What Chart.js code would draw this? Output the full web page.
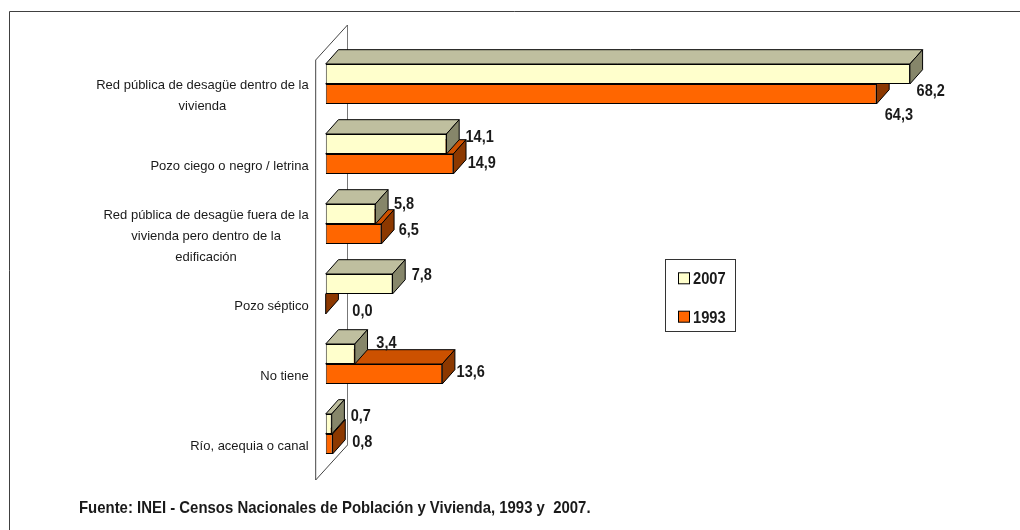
<!DOCTYPE html>
<html>
<head>
<meta charset="utf-8">
<script src="https://cdn.jsdelivr.net/npm/chart.js@4"></script>
<style>
html, body { margin: 0; padding: 0; background: #fff; }
#wrap { position: relative; width: 1020px; height: 530px; }
</style>
</head>
<body>
<div id="wrap"><canvas id="chart" width="1020" height="530"></canvas></div>
<script>
// data
const categories = [
    ['Red pública de desagüe dentro de la', 'vivienda'],
    ['Pozo ciego o negro / letrina'],
    ['Red pública de desagüe fuera de la', 'vivienda pero dentro de la', 'edificación'],
    ['Pozo séptico'],
    ['No tiene'],
    ['Río, acequia o canal']
];
const values2007 = [68.2, 14.1, 5.8, 7.8, 3.4, 0.7];
const values1993 = [64.3, 14.9, 6.5, 0.0, 13.6, 0.8];
const seriesNames = ['2007', '1993'];
const sourceNote = 'Fuente: INEI - Censos Nacionales de Población y Vivienda, 1993 y  2007.';

// label nudges (text left edge from bar end, text centre from bar centre)
const labelNudge2007 = [[6.7, 16], [19, -8], [18.6, -11], [19.2, -10], [21.5, -12], [19, -9]];
const labelNudge1993 = [[8.3, 20.5], [14.3, -2], [17.3, -4.5], [26.6, 6.5], [14.4, -3], [19.7, -3]];

// 3d look
const faceColors = [
    { front: '#FFFFCC', top: '#BFBF9F', side: '#86866A' },
    { front: '#FF6600', top: '#CC5100', side: '#8C3800' }
];
const BX = 12.7, BY = 14.3;   // bar depth
const WX = 31.8, WY = 35;     // wall depth
const FX = 10, FY = 11;       // bar front plane offset from wall front

function poly(c, pts, fill) {
    c.beginPath();
    c.moveTo(pts[0][0], pts[0][1]);
    for (let i = 1; i < pts.length; i++) c.lineTo(pts[i][0], pts[i][1]);
    c.closePath();
    c.fillStyle = fill;
    c.fill();
    c.lineWidth = 1;
    c.strokeStyle = '#000';
    c.stroke();
}

function boldText(c, text, x, baseline, size, sx) {
    c.save();
    c.font = 'bold ' + size + 'px "Liberation Sans", Arial, sans-serif';
    c.textAlign = 'left';
    c.textBaseline = 'alphabetic';
    c.fillStyle = '#1a1a1a';
    c.translate(x, baseline);
    c.scale(sx, 1);
    c.fillText(text, 0, 0);
    c.restore();
}

const threeD = {
    id: 'threeD',
    beforeDatasetsDraw(chart) {
        const c = chart.ctx;
        const xs = chart.scales.x, ys = chart.scales.y;
        const x0 = xs.getPixelForValue(0);
        const fx = x0 - FX;
        const fTop = ys.top + FY, fBot = ys.bottom + FY;
        c.save();
        // back wall edge
        c.strokeStyle = '#777';
        c.lineWidth = 1;
        c.beginPath();
        c.moveTo(fx + WX, fTop - WY);
        c.lineTo(fx + WX, fBot - WY);
        c.stroke();
        // front wall edge and depth lines
        c.strokeStyle = '#444';
        c.beginPath();
        c.moveTo(fx + WX, fTop - WY);
        c.lineTo(fx, fTop);
        c.lineTo(fx, fBot);
        c.lineTo(fx + WX, fBot - WY);
        c.stroke();
        // top and side faces, far series first
        [1, 0].forEach(di => {
            const meta = chart.getDatasetMeta(di);
            meta.data.forEach(bar => {
                const p = bar.getProps(['x', 'y', 'base', 'height'], true);
                const t = p.y - p.height / 2, b = p.y + p.height / 2;
                const s = p.base, e = p.x;
                if (e - s > 0.5) {
                    poly(c, [[s, t], [e, t], [e + BX, t - BY], [s + BX, t - BY]], faceColors[di].top);
                }
                poly(c, [[e, t], [e + BX, t - BY], [e + BX, b - BY], [e, b]], faceColors[di].side);
            });
        });
        c.restore();
    },
    afterDraw(chart) {
        const c = chart.ctx;
        const xs = chart.scales.x, ys = chart.scales.y;
        const x0 = xs.getPixelForValue(0);

        // category labels
        c.save();
        c.font = '13px "Liberation Sans", Arial, sans-serif';
        c.fillStyle = '#1a1a1a';
        c.textBaseline = 'alphabetic';
        c.textAlign = 'center';
        const right = x0 - FX - 7;
        categories.forEach((lines, i) => {
            const cy = ys.getPixelForValue(i) + FY;
            const w = Math.max(...lines.map(l => c.measureText(l).width));
            const cx = right - w / 2;
            lines.forEach((l, k) => {
                const y = cy + (k - (lines.length - 1) / 2) * 21 + 4.7;
                c.fillText(l, cx, y);
            });
        });
        c.restore();

        // data labels
        const series = [values2007, values1993];
        const nudges = [labelNudge2007, labelNudge1993];
        series.forEach((vals, di) => {
            const meta = chart.getDatasetMeta(di);
            vals.forEach((v, i) => {
                const bar = meta.data[i];
                const txt = v.toFixed(1).replace('.', ',');
                const lx = bar.x + nudges[di][i][0];
                const ly = bar.y + nudges[di][i][1] + 0.716 * 16.5 / 2;
                boldText(c, txt, lx, ly, 16.5, 0.88);
            });
        });

        // legend
        c.save();
        c.strokeStyle = '#333';
        c.lineWidth = 1;
        c.strokeRect(665.5, 259.5, 70, 72);
        const legY = [278.3, 316.7];
        chart.data.datasets.forEach((ds, di) => {
            c.fillStyle = ds.backgroundColor;
            c.fillRect(678.5, legY[di] - 5.5, 11, 11);
            c.strokeStyle = '#000';
            c.strokeRect(678.5, legY[di] - 5.5, 11, 11);
            boldText(c, ds.label, 693, legY[di] + 5.8, 16, 0.92);
        });
        c.restore();

        // source note
        boldText(c, sourceNote, 79, 513.3, 17, 0.878);

        // outer frame (top and left edges)
        c.save();
        c.strokeStyle = '#404040';
        c.lineWidth = 1;
        c.beginPath();
        c.moveTo(1020, 11.5);
        c.lineTo(9.5, 11.5);
        c.lineTo(9.5, 530);
        c.stroke();
        c.restore();
    }
};

const ctx = document.getElementById('chart').getContext('2d');
new Chart(ctx, {
    type: 'bar',
    data: {
        labels: categories,
        datasets: [
            {
                label: seriesNames[0],
                data: values2007,
                backgroundColor: faceColors[0].front,
                borderColor: '#000',
                borderWidth: 1,
                borderSkipped: false
            },
            {
                label: seriesNames[1],
                data: values1993,
                backgroundColor: faceColors[1].front,
                borderColor: '#000',
                borderWidth: 1,
                borderSkipped: false
            }
        ]
    },
    options: {
        indexAxis: 'y',
        responsive: false,
        animation: false,
        layout: { padding: { left: 325.7, right: 43.3, top: 49, bottom: 61 } },
        datasets: { bar: { categoryPercentage: 40 / 70, barPercentage: 1 } },
        scales: {
            x: { display: false, min: 0, max: 76 },
            y: { display: false }
        },
        plugins: {
            legend: { display: false },
            tooltip: { enabled: false }
        }
    },
    plugins: [threeD]
});
</script>
</body>
</html>
